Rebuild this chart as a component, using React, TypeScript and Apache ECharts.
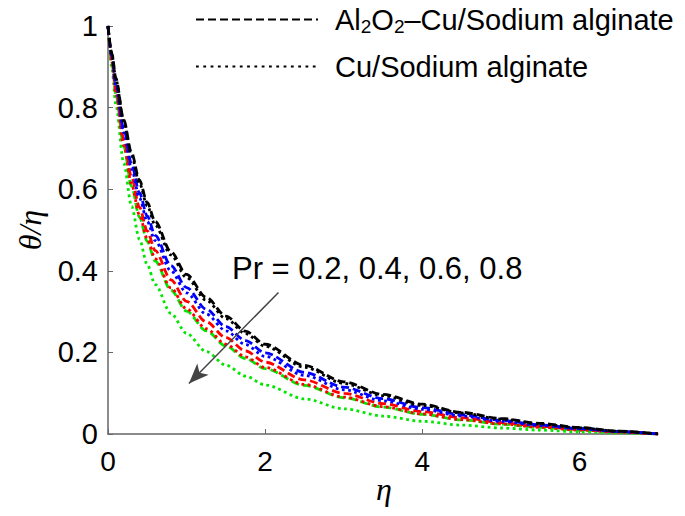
import React, { useEffect, useRef } from "react";
import * as echarts from "echarts";

// η grid
const eta = [0, 0.05, 0.1, 0.2, 0.3, 0.4, 0.5, 0.6, 0.8, 1.0, 1.25, 1.5, 1.75, 2.0, 2.5, 3.0, 3.5, 4.0, 4.5, 5.0, 5.5, 6.0, 6.5, 7.0];

// Al2O2–Cu/Sodium alginate (dashed)
const hybPr02 = [1, 0.932, 0.872, 0.770, 0.689, 0.622, 0.567, 0.521, 0.447, 0.391, 0.335, 0.289, 0.252, 0.220, 0.168, 0.128, 0.097, 0.073, 0.053, 0.038, 0.026, 0.016, 0.007, 0];
const hybPr04 = [1, 0.925, 0.859, 0.748, 0.661, 0.591, 0.534, 0.487, 0.413, 0.359, 0.306, 0.263, 0.229, 0.199, 0.151, 0.115, 0.0865, 0.0644, 0.0472, 0.0334, 0.0225, 0.0135, 0.0061, 0];
const hybPr06 = [1, 0.916, 0.843, 0.723, 0.629, 0.556, 0.4975, 0.45, 0.378, 0.325, 0.275, 0.236, 0.2035, 0.176, 0.1326, 0.0997, 0.0745, 0.055, 0.04, 0.0281, 0.0187, 0.0113, 0.0052, 0];
const hybPr08 = [1, 0.91, 0.832, 0.705, 0.607, 0.532, 0.472, 0.424, 0.353, 0.301, 0.253, 0.216, 0.185, 0.16, 0.119, 0.0888, 0.0657, 0.0482, 0.0347, 0.0242, 0.0161, 0.0097, 0.0044, 0];

// Cu/Sodium alginate (dotted)
const cuPr02 = [1, 0.93, 0.869, 0.765, 0.682, 0.6145, 0.559, 0.512, 0.439, 0.383, 0.328, 0.283, 0.246, 0.215, 0.1635, 0.124, 0.094, 0.07, 0.0515, 0.0365, 0.0247, 0.0149, 0.0068, 0];
const cuPr04 = [1, 0.922, 0.853, 0.739, 0.65, 0.579, 0.521, 0.474, 0.4, 0.346, 0.294, 0.253, 0.219, 0.19, 0.1436, 0.1084, 0.0814, 0.0604, 0.044, 0.0311, 0.0208, 0.0125, 0.0057, 0];
const cuPr06 = [1, 0.911, 0.834, 0.708, 0.612, 0.537, 0.478, 0.43, 0.358, 0.3065, 0.258, 0.22, 0.189, 0.163, 0.1215, 0.0905, 0.067, 0.0491, 0.0353, 0.0247, 0.0164, 0.0098, 0.0044, 0];
const cuPr08 = [1, 0.896, 0.807, 0.6645, 0.558, 0.477, 0.415, 0.3665, 0.2956, 0.2466, 0.2023, 0.1687, 0.142, 0.12, 0.086, 0.0617, 0.044, 0.0312, 0.0217, 0.0147, 0.0094, 0.0055, 0.0024, 0];

const prColors = ["#000000", "#0000ff", "#ff0000", "#00e600"];
const hybSeries = [hybPr02, hybPr04, hybPr06, hybPr08];
const cuSeries = [cuPr02, cuPr04, cuPr06, cuPr08];

const legendNames = ["Al2O2–Cu/Sodium alginate", "Cu/Sodium alginate"];
const xTicks = [0, 2, 4, 6];
const annotationText = "Pr = 0.2, 0.4, 0.6, 0.8";
const arrowStart = [2.17, 0.347];
const arrowEnd = [1.03, 0.124];

const SANS = "'Liberation Sans', Arial, Helvetica, sans-serif";
const SERIF = "'Liberation Serif', 'DejaVu Serif', serif";
const DASH = [8, 4];
const DOT = [2.8, 3.5];

export default function App() {
  const ref = useRef<HTMLDivElement>(null);
  useEffect(() => {
    if (!ref.current) return;
    const chart = echarts.init(ref.current, undefined, { renderer: "svg" });
    const toPairs = (ys: number[]) => eta.map((x, i) => [x, ys[i]]);
    const series: any[] = [];
    // legend-only series
    series.push({
      name: legendNames[0], type: "line", data: [], symbol: "none",
      lineStyle: { color: "#000", width: 2, type: DASH }, itemStyle: { color: "#000" },
    });
    series.push({
      name: legendNames[1], type: "line", data: [], symbol: "none",
      lineStyle: { color: "#000", width: 2.8, type: [2.8, 4.5] }, itemStyle: { color: "#000" },
    });
    for (let k = 3; k >= 0; k--) {
      series.push({
        name: "hyb" + k, type: "line", data: toPairs(hybSeries[k]), symbol: "none",
        smooth: 0.3, smoothMonotone: "x",
        lineStyle: { color: prColors[k], width: 2.8, type: DASH },
      });
      series.push({
        name: "cu" + k, type: "line", data: toPairs(cuSeries[k]), symbol: "none",
        smooth: 0.3, smoothMonotone: "x",
        lineStyle: { color: prColors[k], width: 2.8, type: DOT },
      });
    }
    series.push({
      name: "arrow", type: "line", data: [], symbol: "none",
      markLine: {
        silent: true, animation: false,
        symbol: ["none", "arrow"], symbolSize: [12, 20],
        label: { show: false },
        lineStyle: { color: "#444", width: 1.5, type: "solid" },
        data: [[{ coord: arrowStart }, { coord: arrowEnd }]],
      },
    });

    chart.setOption({
      animation: false,
      backgroundColor: "#fff",
      grid: { left: 108, right: 27, top: 26, bottom: 82, containLabel: false },
      legend: {
        data: legendNames,
        orient: "vertical",
        left: 190,
        top: 0,
        itemWidth: 122,
        itemHeight: 14,
        itemGap: 16,
        selectedMode: false,
        itemStyle: { opacity: 0 },
        formatter: (n: string) => (n === legendNames[0] ? "Al{sub|2}O{sub|2}–Cu/Sodium alginate" : n),
        textStyle: {
          fontFamily: SANS, fontSize: 29, color: "#000", padding: [0, 0, 0, 12],
          rich: { sub: { fontFamily: SANS, fontSize: 19, color: "#000", padding: [14, 0, 0, 0] } },
        },
      },
      xAxis: {
        type: "value", min: 0, max: 7, interval: 1,
        axisLine: { show: true, lineStyle: { color: "#666", width: 1.5 } },
        axisTick: { show: true, inside: true, length: 5, customValues: xTicks, lineStyle: { color: "#666" } },
        axisLabel: { customValues: xTicks, fontFamily: SANS, fontSize: 28, color: "#000", margin: 13 },
        splitLine: { show: false },
      },
      yAxis: {
        type: "value", min: 0, max: 1, interval: 0.2,
        axisLine: { show: true, lineStyle: { color: "#666", width: 1.5 } },
        axisTick: { show: true, inside: true, length: 5, lineStyle: { color: "#666" } },
        axisLabel: { fontFamily: SANS, fontSize: 29, color: "#000", margin: 10 },
        splitLine: { show: false },
      },
      graphic: [
        {
          type: "text", x: 30, y: 230, rotation: Math.PI / 2,
          style: { text: "θ/η", font: `italic 32px ${SERIF}`, fill: "#000", align: "center", verticalAlign: "middle" },
        },
        {
          type: "text", x: 384, y: 489,
          style: { text: "η", font: `italic 32px ${SERIF}`, fill: "#000", align: "center", verticalAlign: "middle" },
        },
        {
          type: "text", x: 232, y: 268,
          style: { text: annotationText, font: `31px ${SANS}`, fill: "#000", align: "left", verticalAlign: "middle" },
        },
      ],
      series,
    });
    return () => chart.dispose();
  }, []);
  return <div ref={ref} style={{ position: "fixed", left: 0, top: 0, width: 685, height: 516 }} />;
}
